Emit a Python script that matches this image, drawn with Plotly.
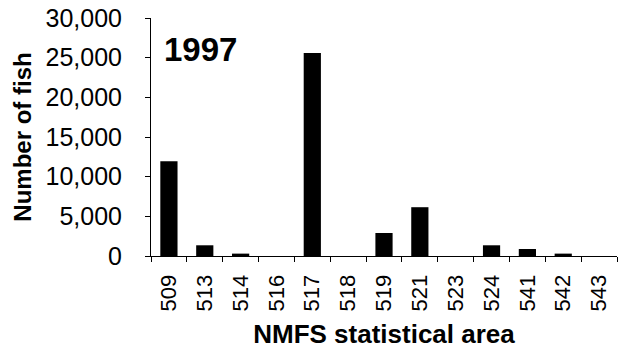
import plotly.graph_objects as go

areas = ["509", "513", "514", "516", "517", "518", "519", "521", "523", "524", "541", "542", "543"]
fish = [11950, 1350, 300, 0, 25600, 0, 2900, 6150, 0, 1350, 880, 300, 0]
y_ticks = [0, 5000, 10000, 15000, 20000, 25000, 30000]
y_labels = ["0", "5,000", "10,000", "15,000", "20,000", "25,000", "30,000"]

FONT = "Liberation Sans, Arial, sans-serif"

fig = go.Figure(go.Bar(x=areas, y=fish, marker=dict(color="black", line=dict(width=0))))

fig.update_layout(
    width=618, height=349,
    margin=dict(l=151, r=1, t=18, b=93, autoexpand=False),
    plot_bgcolor="white", paper_bgcolor="white",
    bargap=0.52,
    showlegend=False,
    font=dict(family=FONT, color="black"),
)
fig.update_xaxes(
    type="category", automargin=False,
    showline=True, linecolor="black", linewidth=1,
    ticks="outside", ticklen=5, tickcolor="black", tickson="boundaries",
    tickangle=-90, tickfont=dict(size=22, family=FONT), ticklabelstandoff=9,
    ticklabeloverflow="allow",
    showgrid=False, zeroline=False,
    title=dict(text="<b>NMFS statistical area</b>", font=dict(size=26, family=FONT), standoff=14),
)
fig.update_yaxes(
    range=[0, 30000], automargin=False,
    tickvals=y_ticks, ticktext=y_labels,
    showline=True, linecolor="black", linewidth=1,
    ticks="outside", ticklen=5, tickcolor="black",
    tickfont=dict(size=25, family=FONT), ticklabelstandoff=18,
    ticklabeloverflow="allow",
    showgrid=False, zeroline=False,
    title=dict(text="<b>Number of fish</b>", font=dict(size=24, family=FONT), standoff=7),
)
fig.add_annotation(
    text="<b>1997</b>", xref="paper", yref="paper",
    x=(162 - 151) / 466, y=(256 - 49) / 238,
    xanchor="left", yanchor="middle", showarrow=False,
    font=dict(size=33, family=FONT, color="black"),
)

# remove the browser's default 8px body margin so the figure fills the window exactly
fig.write_html("out.html", config={"displayModeBar": False},
               post_script="document.body.style.margin='0';")
